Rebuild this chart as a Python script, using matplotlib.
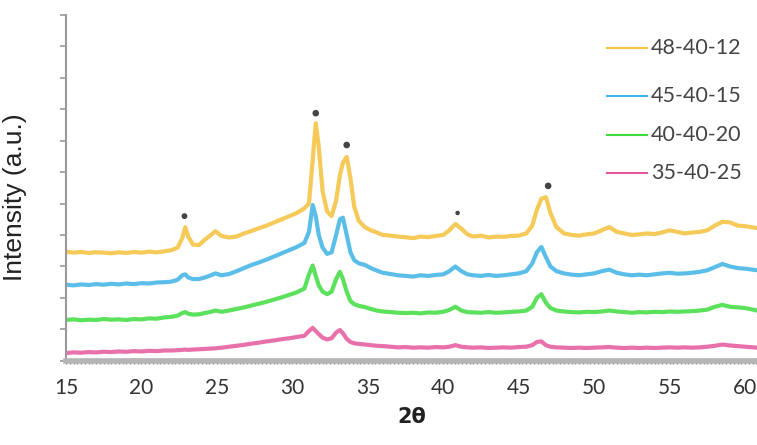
import matplotlib
matplotlib.use('Agg')
import matplotlib.pyplot as plt
from matplotlib.ticker import MultipleLocator, NullFormatter

# shared 2-theta grid (degrees)
two_theta = [15.0, 15.5, 16.0, 16.5, 17.0, 17.5, 18.0, 18.5, 19.0, 19.5,
             20.0, 20.5, 21.0, 21.5, 22.0, 22.4, 22.7, 22.9, 23.1, 23.4,
             23.8, 24.2, 24.6, 24.9, 25.3, 25.8, 26.3, 26.8, 27.3, 27.8,
             28.3, 28.8, 29.3, 29.8, 30.3, 30.8, 31.1, 31.35, 31.55, 31.75,
             32.0, 32.3, 32.6, 32.9, 33.15, 33.35, 33.6, 33.85, 34.1, 34.4,
             34.8, 35.2, 35.6, 36.0, 36.5, 37.0, 37.5, 38.0, 38.5, 39.0,
             39.5, 40.0, 40.4, 40.8, 41.2, 41.6, 42.0, 42.5, 43.0, 43.5,
             44.0, 44.5, 45.0, 45.5, 45.9, 46.2, 46.5, 46.8, 47.1, 47.5,
             48.0, 48.5, 49.0, 49.5, 50.0, 50.5, 51.0, 51.5, 52.0, 52.5,
             53.0, 53.5, 54.0, 54.5, 55.0, 55.5, 56.0, 56.5, 57.0, 57.5,
             58.0, 58.5, 59.0, 59.5, 60.0, 60.8]

# intensities (offset, arbitrary units)
i_48_40_12 = [3.47, 3.44, 3.46, 3.43, 3.45, 3.44, 3.42, 3.45, 3.43, 3.46,
              3.44, 3.47, 3.45, 3.48, 3.52, 3.6, 3.9, 4.25, 3.95, 3.7,
              3.68, 3.85, 4.0, 4.12, 3.97, 3.92, 3.95, 4.05, 4.13, 4.22,
              4.3, 4.4, 4.5, 4.6, 4.7, 4.85, 5.0, 6.4, 7.55, 6.8,
              5.4, 4.75, 4.6, 5.1, 5.9, 6.3, 6.48, 5.8, 4.9, 4.45,
              4.25, 4.15, 4.08, 4.0, 3.98, 3.95, 3.93, 3.9, 3.95, 3.93,
              3.97, 4.0, 4.15, 4.35, 4.2, 4.02, 3.95, 3.98, 3.92, 3.95,
              3.94, 3.97, 3.98, 4.05, 4.3, 4.8, 5.15, 5.2, 4.7, 4.25,
              4.05, 4.0, 3.98, 4.02, 4.05, 4.15, 4.25, 4.1, 4.05, 4.0,
              4.02, 4.05, 4.03, 4.08, 4.15, 4.1, 4.05, 4.08, 4.1, 4.15,
              4.3, 4.42, 4.4, 4.3, 4.28, 4.22]

i_45_40_15 = [2.42, 2.4, 2.43, 2.41, 2.44, 2.42, 2.45, 2.43, 2.46, 2.44,
              2.47, 2.46, 2.49, 2.5, 2.52, 2.58, 2.72, 2.75, 2.65, 2.6,
              2.6, 2.65, 2.72, 2.78, 2.72, 2.76, 2.85, 2.95, 3.05, 3.13,
              3.22, 3.32, 3.42, 3.52, 3.62, 3.75, 4.1, 4.95, 4.6, 4.0,
              3.6, 3.4, 3.45, 4.0, 4.5, 4.55, 4.0, 3.45, 3.2, 3.1,
              3.05, 2.95, 2.87, 2.8, 2.76, 2.72, 2.7, 2.68, 2.72, 2.7,
              2.73, 2.75, 2.85, 3.0, 2.85, 2.75, 2.72, 2.7, 2.73, 2.7,
              2.72, 2.75, 2.78, 2.85, 3.1, 3.45, 3.62, 3.3, 3.0, 2.85,
              2.78, 2.74, 2.72, 2.75, 2.78, 2.85, 2.9, 2.8, 2.75, 2.72,
              2.74, 2.72, 2.75, 2.78, 2.8, 2.77, 2.78, 2.8, 2.83, 2.88,
              2.98, 3.08, 3.0, 2.95, 2.93, 2.88]

i_40_40_20 = [1.3, 1.32, 1.29, 1.31, 1.3, 1.33, 1.31, 1.32, 1.3, 1.33,
              1.32, 1.35, 1.34, 1.38, 1.4, 1.44, 1.52, 1.55, 1.5, 1.47,
              1.48, 1.52, 1.56, 1.6, 1.56, 1.6, 1.65, 1.7, 1.76, 1.82,
              1.88, 1.95, 2.02, 2.1, 2.18, 2.3, 2.75, 3.03, 2.7, 2.4,
              2.2, 2.12, 2.2, 2.6, 2.83, 2.6, 2.2, 1.9, 1.8, 1.75,
              1.71, 1.65, 1.6, 1.57, 1.55, 1.53, 1.52, 1.53, 1.51, 1.54,
              1.53, 1.56, 1.62, 1.72, 1.6, 1.55, 1.54, 1.53, 1.55, 1.53,
              1.54, 1.56, 1.57, 1.6, 1.72, 2.0, 2.12, 1.85, 1.68, 1.6,
              1.57, 1.55, 1.54, 1.56, 1.55, 1.57, 1.6, 1.57, 1.55, 1.53,
              1.55, 1.54, 1.56, 1.55, 1.57, 1.56, 1.57, 1.58, 1.6, 1.63,
              1.72, 1.78, 1.72, 1.7, 1.68, 1.6]

i_35_40_25 = [0.25, 0.27, 0.26, 0.28, 0.27, 0.29, 0.28, 0.3, 0.29, 0.31,
              0.3, 0.32, 0.31, 0.33, 0.33, 0.34, 0.35, 0.36, 0.35, 0.36,
              0.37, 0.38, 0.39, 0.4, 0.42, 0.45, 0.48, 0.51, 0.55, 0.58,
              0.62, 0.65, 0.69, 0.72, 0.76, 0.8, 0.95, 1.05, 0.95, 0.85,
              0.74, 0.68, 0.72, 0.9, 0.98, 0.88, 0.7, 0.6, 0.56, 0.54,
              0.52, 0.5, 0.48, 0.47, 0.45, 0.43, 0.44, 0.42, 0.43, 0.42,
              0.44, 0.43, 0.45, 0.5, 0.45, 0.43, 0.42, 0.43, 0.41, 0.42,
              0.43, 0.42, 0.44, 0.45, 0.5, 0.6, 0.62, 0.5, 0.45, 0.43,
              0.42, 0.41, 0.42, 0.41, 0.42, 0.43, 0.44, 0.42, 0.41, 0.42,
              0.41, 0.42, 0.41, 0.42, 0.43, 0.42, 0.43, 0.42, 0.43, 0.45,
              0.48, 0.52, 0.49, 0.47, 0.45, 0.42]

labels = ['48-40-12', '45-40-15', '40-40-20', '35-40-25']
colors = ['#f4c13c', '#3eb3e6', '#3fdc3f', '#e6589c']

# peak markers (asterisks)
star_x = [22.85, 31.55, 33.6, 40.95, 46.95]
star_y = [4.6, 7.87, 6.86, 4.7, 5.56]
star_size = [10, 14, 14, 5, 14]

fig = plt.figure(figsize=(7.57, 4.45), dpi=100)
ax = fig.add_axes([0.0872, 0.189, 0.913, 0.778])

series = [i_48_40_12, i_45_40_15, i_40_40_20, i_35_40_25]
for vals, col in zip(series, colors):
    ax.plot(two_theta, vals, color=col, lw=3, alpha=0.85, solid_joinstyle='round')

ax.scatter(star_x, star_y, s=star_size, color='#444444', marker='o', zorder=5)

ax.set_xlim(15, 60.8)
ax.set_ylim(0, 11)

for s in ['top', 'right']:
    ax.spines[s].set_visible(False)
ax.spines['left'].set_color('#999999')
ax.spines['left'].set_linewidth(1.5)
ax.spines['bottom'].set_color('#b5b5b5')
ax.spines['bottom'].set_linewidth(4)

ax.xaxis.set_major_locator(MultipleLocator(5))
ax.xaxis.set_minor_locator(MultipleLocator(0.25))
ax.tick_params(axis='x', which='both', direction='inout', length=5, width=1,
               color='#7a7a7a', labelsize=15, pad=10)
ax.yaxis.set_major_locator(MultipleLocator(1))
ax.yaxis.set_major_formatter(NullFormatter())
ax.tick_params(axis='y', direction='out', length=4, width=1.2, color='#999999')

for lab in ax.get_xticklabels():
    lab.set_family('Lato')
    lab.set_color('#333333')

ax.set_xlabel('2θ', fontsize=15, fontweight='bold', family='DejaVu Sans', labelpad=6, color='#222222')
ax.set_ylabel('Intensity (a.u.)', fontsize=19, family='Liberation Sans', color='#222222')
ax.yaxis.set_label_coords(-0.056, 0.474)

# legend drawn by hand to keep the uneven spacing
leg_y = [0.905, 0.766, 0.653, 0.543]
for lab, col, yy in zip(labels, colors, leg_y):
    ax.plot([0.783, 0.841], [yy, yy], color=col, lw=1.5, transform=ax.transAxes, clip_on=False)
    ax.text(0.846, yy, lab, transform=ax.transAxes, va='center', ha='left',
            fontsize=15.5, family='Lato', color='#444444')

fig.savefig('out.png', dpi=100)
